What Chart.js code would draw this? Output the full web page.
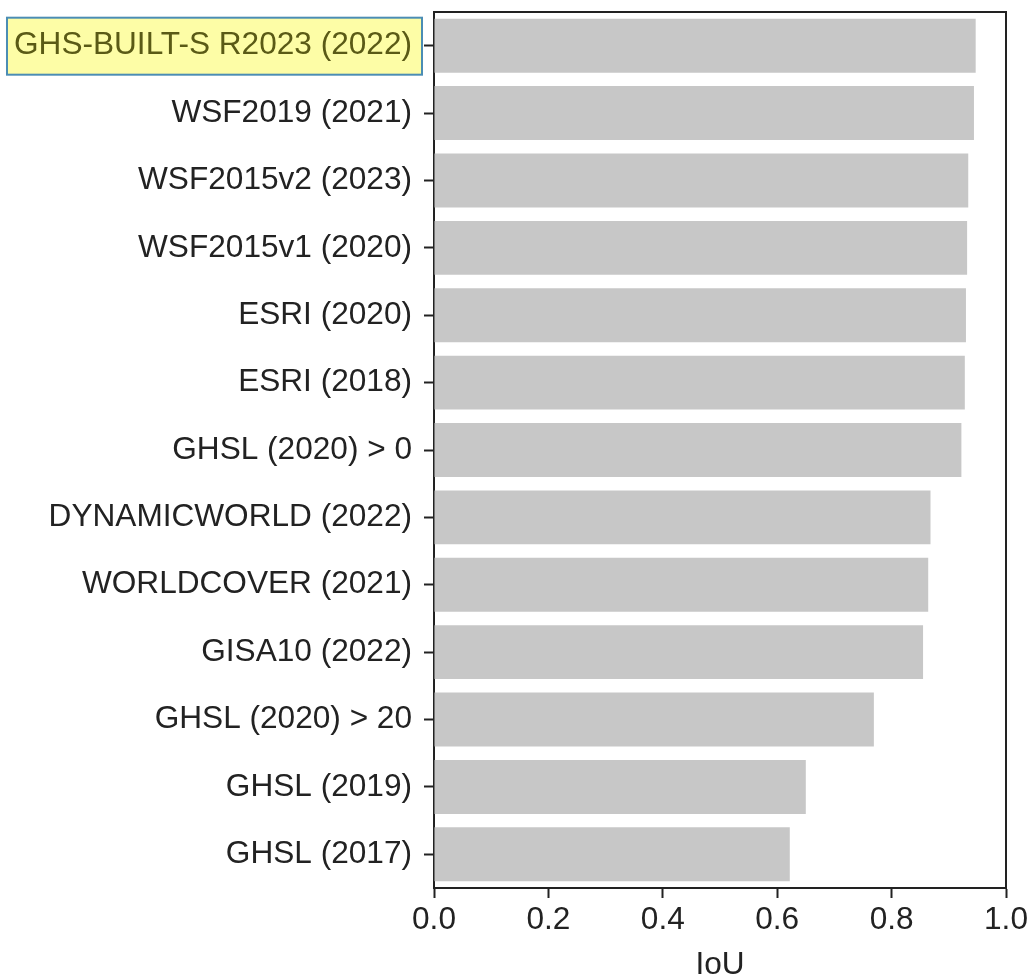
<!DOCTYPE html>
<html>
<head>
<meta charset="utf-8">
<script src="https://cdn.jsdelivr.net/npm/chart.js@4"></script>
<style>
  body { margin: 0; background: #fff; }
  canvas { display: block; }
</style>
</head>
<body>
<canvas id="iouChart" width="1032" height="975"></canvas>
<script>
// Products, ordered best to worst
var products = [
  'GHS-BUILT-S R2023 (2022)',
  'WSF2019 (2021)',
  'WSF2015v2 (2023)',
  'WSF2015v1 (2020)',
  'ESRI (2020)',
  'ESRI (2018)',
  'GHSL (2020) > 0',
  'DYNAMICWORLD (2022)',
  'WORLDCOVER (2021)',
  'GISA10 (2022)',
  'GHSL (2020) > 20',
  'GHSL (2019)',
  'GHSL (2017)'
];
var iouValues = [0.947, 0.944, 0.934, 0.932, 0.930, 0.928, 0.922, 0.868, 0.864, 0.855, 0.769, 0.650, 0.622];
var iouTicks = [0.0, 0.2, 0.4, 0.6, 0.8, 1.0];

var FONT = 'Liberation Sans, Arial, Helvetica, sans-serif';
var FONT_SIZE = 31.6;
var INK = '#222222';

// closes the box on the top and right sides
var frame = {
  id: 'frame',
  afterDatasetsDraw: function(chart) {
    var a = chart.chartArea, c = chart.ctx;
    c.save();
    c.strokeStyle = INK;
    c.lineWidth = 2;
    c.beginPath();
    c.moveTo(a.left, a.top);
    c.lineTo(a.right, a.top);
    c.lineTo(a.right, a.bottom);
    c.stroke();
    c.restore();
  }
};

// yellow marker behind the first product name
var highlight = {
  id: 'highlight',
  beforeDraw: function(chart) {
    var y = chart.scales.y, c = chart.ctx;
    var yc = y.getPixelForValue(0);
    c.save();
    c.font = FONT_SIZE + 'px ' + FONT;
    var w = c.measureText(products[0]).width;
    var textRight = chart.chartArea.left - 22;
    var right = textRight + 10;
    var left = textRight - w - 7;
    c.fillStyle = '#fdfda6';
    c.fillRect(left, yc - 28, right - left, 57);
    c.strokeStyle = '#4b8db4';
    c.lineWidth = 2;
    c.strokeRect(left, yc - 28, right - left, 57);
    c.restore();
  }
};

var ctx = document.getElementById('iouChart').getContext('2d');
var chart = new Chart(ctx, {
  type: 'bar',
  data: {
    labels: products,
    datasets: [{
      data: iouValues,
      backgroundColor: '#c7c7c7',
      borderWidth: 0,
      categoryPercentage: 0.8,
      barPercentage: 1.0
    }]
  },
  options: {
    indexAxis: 'y',
    responsive: false,
    animation: false,
    layout: { padding: { top: 12, right: 26, left: 0, bottom: 0 } },
    plugins: {
      legend: { display: false },
      tooltip: { enabled: false }
    },
    scales: {
      y: {
        afterFit: function(s) {
          s.width = 434;
          s.paddingTop = 0;
          s.paddingBottom = 0;
        },
        grid: { display: true, offset: false, drawOnChartArea: false, tickLength: 10, tickWidth: 2, tickColor: INK },
        border: { display: true, width: 2, color: INK },
        ticks: {
          padding: 12,
          font: { family: FONT, size: FONT_SIZE },
          color: function(c) { return c.index === 0 ? '#5a5a16' : INK; }
        }
      },
      x: {
        min: 0,
        max: 1,
        afterFit: function(s) {
          s.height = 87;
          s.paddingLeft = 0;
          s.paddingRight = 0;
        },
        afterBuildTicks: function(s) {
          s.ticks = iouTicks.map(function(v) { return { value: v }; });
        },
        grid: { display: true, drawOnChartArea: false, tickLength: 10, tickWidth: 2, tickColor: INK },
        border: { display: true, width: 2, color: INK },
        ticks: {
          padding: 3,
          maxRotation: 0,
          font: { family: FONT, size: FONT_SIZE },
          color: INK,
          callback: function(v) { return Number(v).toFixed(1); }
        },
        title: {
          display: true,
          text: 'IoU',
          color: INK,
          font: { family: FONT, size: FONT_SIZE, lineHeight: 1 },
          padding: { top: 0, bottom: -6 }
        }
      }
    }
  },
  plugins: [highlight, frame]
});
</script>
</body>
</html>
